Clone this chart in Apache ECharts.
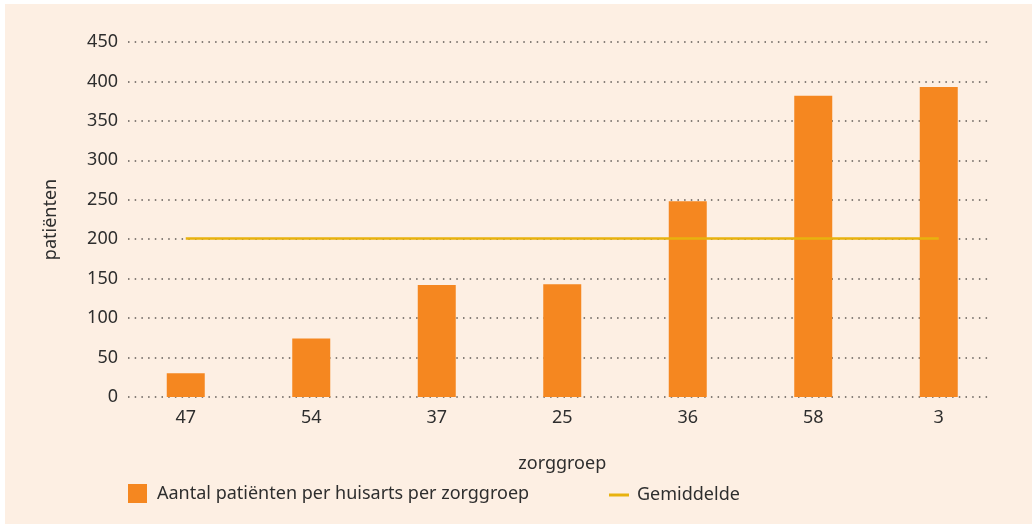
<!DOCTYPE html>
<html>
<head>
<meta charset="utf-8">
<script src="https://cdn.jsdelivr.net/npm/echarts@6/dist/echarts.min.js"></script>
<style>
  body { margin: 0; background: #ffffff; }
  #chart { position: absolute; left: 5px; top: 4px; width: 1027px; height: 520px; background: #fdefe3; }
</style>
</head>
<body>
<div id="chart"></div>
<script>
const zorggroepen = ["47", "54", "37", "25", "36", "58", "3"];
const patienten = [30, 74, 142, 143, 248, 382, 393];
const gemiddelde = [201, 201, 201, 201, 201, 201, 201];
const yTicks = [0, 50, 100, 150, 200, 250, 300, 350, 400, 450];

const tekst = "#2e2e2e";
const font = "Noto Sans";
const fs = 18;

const chart = echarts.init(document.getElementById("chart"));

const option = {
  textStyle: { fontFamily: font },
  grid: [
    { left: 123, right: 40, top: 38, bottom: 127 },
    { left: 118, right: 30.5, top: 38, bottom: 127 },
  ],
  legend: [
    {
      data: ["Aantal patiënten per huisarts per zorggroep"],
      left: 123,
      top: 480,
      padding: 0,
      icon: "rect",
      itemWidth: 19,
      itemHeight: 19,
      textStyle: { color: tekst, fontSize: fs, fontFamily: font, padding: [0, 0, 0, 5] },
    },
    {
      data: ["Gemiddelde"],
      left: 604,
      top: 482,
      padding: 0,
      icon: "path://M0,0 L20,0 L20,3 L0,3 Z",
      itemWidth: 20,
      itemHeight: 3,
      textStyle: { color: tekst, fontSize: fs, fontFamily: font, padding: [0, 0, 0, 3] },
    },
  ],
  xAxis: [
    { type: "category", gridIndex: 0, data: zorggroepen, show: false },
    {
      type: "category",
      gridIndex: 1,
      data: zorggroepen,
      name: "zorggroep",
      nameLocation: "middle",
      nameGap: 58,
      nameTextStyle: { color: tekst, fontSize: fs, fontFamily: font },
      axisLine: { show: false },
      axisTick: { show: false },
      axisLabel: { color: tekst, fontSize: fs, fontFamily: font, margin: 12 },
    },
  ],
  yAxis: [
    {
      type: "value",
      gridIndex: 0,
      min: 0,
      max: yTicks[yTicks.length - 1],
      interval: yTicks[1] - yTicks[0],
      name: "patiënten",
      nameLocation: "middle",
      nameGap: 68,
      nameTextStyle: { color: tekst, fontSize: fs, fontFamily: font },
      axisLine: { show: false },
      axisTick: { show: false },
      axisLabel: { color: tekst, fontSize: fs, fontFamily: font, margin: 10 },
      splitLine: {
        show: true,
        lineStyle: { color: "#5f5a56", width: 1.5, type: [1.5, 5.2] },
      },
    },
    {
      type: "value",
      gridIndex: 1,
      min: 0,
      max: yTicks[yTicks.length - 1],
      interval: yTicks[1] - yTicks[0],
      show: false,
      splitLine: { show: false },
    },
  ],
  series: [
    {
      name: "Aantal patiënten per huisarts per zorggroep",
      type: "bar",
      xAxisIndex: 1,
      yAxisIndex: 1,
      data: patienten,
      barWidth: 38,
      itemStyle: { color: "#f58720" },
    },
    {
      name: "Gemiddelde",
      type: "line",
      xAxisIndex: 1,
      yAxisIndex: 1,
      data: gemiddelde,
      symbol: "none",
      lineStyle: { color: "#e8b20e", width: 2.5 },
      itemStyle: { color: "#e8b20e" },
    },
  ],
};

chart.setOption(option);
</script>
</body>
</html>
